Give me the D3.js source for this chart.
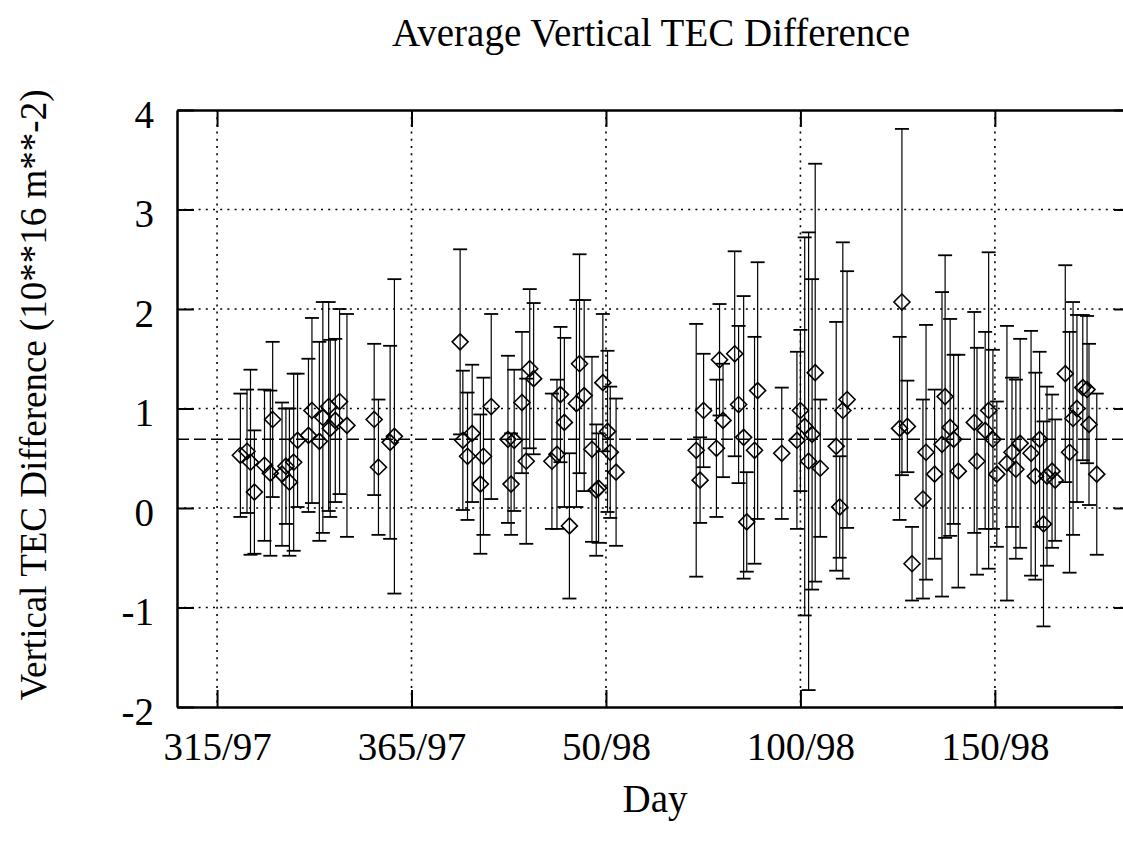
<!DOCTYPE html>
<html><head><meta charset="utf-8">
<script src="https://cdn.jsdelivr.net/npm/d3@7"></script>
<style>
body{margin:0;background:#fff}
text{font-family:"Liberation Serif","Times New Roman",Times,serif;fill:#000}
</style>
</head><body>
<svg id="c" width="1123" height="852"></svg>
<script>
// Day number counted continuously from 1 Jan 1997 (day 366 = 1/98)
const days = [
 321.0,322.7,323.6,324.6,327.2,328.7,329.3,331.7,332.7,333.6,334.7,335.7,338.5,339.4,341.3,342.2,343.7,344.1,345.4,346.5,348.4,355.4,356.5,359.5,360.6,
 377.5,378.2,379.4,380.6,382.7,383.5,385.5,389.8,390.6,391.4,393.4,394.5,395.4,396.4,401.1,402.4,403.3,404.3,405.6,407.4,408.2,409.4,411.4,412.5,413.1,414.2,415.4,416.1,417.6,
 438.2,439.2,440.1,443.4,444.2,445.1,448.1,449.1,450.4,451.2,453.2,454.0,460.2,464.1,465.0,466.1,467.1,468.0,468.8,470.1,474.2,475.1,475.9,477.0,
 490.5,491.1,492.5,493.7,496.5,497.3,499.5,501.4,502.2,503.5,504.4,505.6,509.7,510.4,512.5,513.4,514.5,515.5,518.1,519.4,520.4,521.5,524.3,525.4,526.5,527.5,528.4,529.7,530.5,533.1,534.2,535.1,536.1,537.6,538.7,539.2,541.2
];
// Average vertical TEC difference (10**16 m**-2)
const tecDiff = [
 0.53,0.57,0.46,0.16,0.43,0.35,0.89,0.34,0.42,0.26,0.46,0.68,0.73,0.98,0.67,0.91,1.02,0.80,0.88,1.07,0.83,0.89,0.41,0.66,0.72,
 1.67,0.68,0.52,0.75,0.24,0.52,1.02,0.69,0.24,0.68,1.06,0.47,1.40,1.30,0.47,0.54,1.14,0.86,-0.18,1.05,1.45,1.13,0.59,0.18,0.20,1.26,0.77,0.56,0.36,
 0.58,0.28,0.98,0.60,1.49,0.88,1.55,1.04,0.71,-0.14,0.58,1.18,0.55,0.68,0.98,0.82,0.47,0.74,1.36,0.40,0.62,0.01,0.98,1.09,
 0.80,2.07,0.82,-0.56,0.09,0.56,0.34,0.64,1.12,0.81,0.69,0.37,0.86,0.47,0.78,0.98,0.69,0.34,0.45,0.56,0.39,0.65,0.55,0.32,0.69,-0.16,0.32,0.37,0.28,1.35,0.56,0.90,1.00,1.21,1.19,0.84,0.34
];
// Error bar half-length (standard deviation)
const tecSigma = [
 0.62,0.62,0.93,0.62,0.76,0.83,0.78,0.72,0.58,0.74,0.89,0.67,0.77,0.93,1.00,1.16,1.05,0.89,0.82,0.93,1.12,0.76,0.68,0.97,1.58,
 0.93,0.70,0.64,0.69,0.70,0.79,0.93,0.84,0.51,0.71,0.71,0.83,0.80,0.76,0.68,0.75,0.68,0.85,0.73,1.04,1.10,0.96,0.93,0.66,0.55,0.69,0.81,0.66,0.74,
 1.27,0.43,0.57,0.69,0.56,0.57,1.03,0.79,1.42,0.50,1.14,1.29,0.66,0.89,0.81,1.90,2.30,1.56,2.10,0.69,1.25,0.51,1.69,1.29,
 0.92,1.74,0.46,0.37,1.00,1.28,0.85,1.53,1.42,1.09,0.85,1.17,1.11,1.14,0.99,1.59,0.90,0.73,1.38,0.75,0.90,1.05,1.23,1.04,0.88,1.03,0.90,0.77,0.61,1.09,1.21,1.17,0.94,0.73,0.74,0.81,0.81
];
const meanDiff = 0.69;
const xTickValues = [315,365,415,465,515];
const xTickLabels = ["315/97","365/97","50/98","100/98","150/98"];
const yTickValues = [-2,-1,0,1,2,3,4];
const yTickLabels = ["-2","-1","0","1","2","3","4"];
const yGridValues = [-1,0,1,2,3];
const titleText = "Average Vertical TEC Difference";
const xLabelText = "Day";
const yLabelText = "Vertical TEC Difference (10**16 m**-2)";

const n = Math.min(days.length, tecDiff.length, tecSigma.length);
const data = d3.range(n).map(i => ({day: days[i], v: tecDiff[i], s: tecSigma[i]}));

const svg = d3.select("#c");
const L = 177, R = 1131, T = 110, B = 707;
const x = d3.scaleLinear().domain([304.7, 550]).range([L, R]);
const y = d3.scaleLinear().domain([-2, 4]).range([B, T]);
const FS = 39;

// grid
const grid = svg.append("g").attr("stroke", "#000").attr("stroke-width", 1.6).attr("stroke-dasharray", "2,5.2").attr("fill", "none");
grid.selectAll("line.h").data(yGridValues).join("line").attr("class","h")
  .attr("x1", L).attr("x2", R).attr("y1", d => y(d)).attr("y2", d => y(d));
grid.selectAll("line.v").data(xTickValues).join("line").attr("class","v")
  .attr("x1", d => x(d)).attr("x2", d => x(d)).attr("y1", T).attr("y2", B);

// mean dashed line
svg.append("line").attr("x1", L).attr("x2", R).attr("y1", y(meanDiff)).attr("y2", y(meanDiff))
  .attr("stroke", "#000").attr("stroke-width", 1.5).attr("stroke-dasharray", "12,5");

// error bars
const eb = svg.append("g").attr("stroke", "#000").attr("fill", "none");
eb.selectAll("line.bar").data(data).join("line").attr("class","bar")
  .attr("x1", d => x(d.day)).attr("x2", d => x(d.day))
  .attr("y1", d => y(d.v + d.s)).attr("y2", d => y(d.v - d.s)).attr("stroke-width", 1.2);
const capW = 7;
eb.selectAll("line.capt").data(data).join("line").attr("class","capt")
  .attr("x1", d => x(d.day) - capW).attr("x2", d => x(d.day) + capW)
  .attr("y1", d => y(d.v + d.s)).attr("y2", d => y(d.v + d.s)).attr("stroke-width", 1.8);
eb.selectAll("line.capb").data(data).join("line").attr("class","capb")
  .attr("x1", d => x(d.day) - capW).attr("x2", d => x(d.day) + capW)
  .attr("y1", d => y(d.v - d.s)).attr("y2", d => y(d.v - d.s)).attr("stroke-width", 1.8);

// diamonds
const dh = 8;
svg.append("g").selectAll("path").data(data).join("path")
  .attr("d", d => { const cx = x(d.day), cy = y(d.v); return `M${cx},${cy-dh}L${cx+dh},${cy}L${cx},${cy+dh}L${cx-dh},${cy}Z`; })
  .attr("fill", "none").attr("stroke", "#000").attr("stroke-width", 1.6);

// axes
function styleAxis(g){
  g.select(".domain").attr("stroke-width", 2.5);
  g.selectAll(".tick line").attr("stroke-width", 2);
  g.selectAll("text").attr("font-size", FS).attr("font-family", '"Liberation Serif","Times New Roman",serif');
}
const yAxisL = d3.axisLeft(y).tickValues(yTickValues).tickSize(-17).tickSizeOuter(0).tickPadding(23)
  .tickFormat((d, i) => yTickLabels[i]);
svg.append("g").attr("transform", `translate(${L},0)`).call(yAxisL).call(styleAxis)
  .call(g => g.selectAll("text").attr("dy", "0.44em"));
const yAxisR = d3.axisRight(y).tickValues(yTickValues).tickSize(-17).tickSizeOuter(0).tickFormat("");
svg.append("g").attr("transform", `translate(${R},0)`).call(yAxisR).call(styleAxis);
const xAxisB = d3.axisBottom(x).tickValues(xTickValues).tickSize(-17).tickSizeOuter(0).tickPadding(25)
  .tickFormat((d, i) => xTickLabels[i]);
svg.append("g").attr("transform", `translate(0,${B})`).call(xAxisB).call(styleAxis);
const xAxisT = d3.axisTop(x).tickValues(xTickValues).tickSize(-17).tickSizeOuter(0).tickFormat("");
svg.append("g").attr("transform", `translate(0,${T})`).call(xAxisT).call(styleAxis);

// titles
svg.append("text").attr("x", 651).attr("y", 46).attr("text-anchor", "middle").attr("font-size", FS).text(titleText);
svg.append("text").attr("x", 655).attr("y", 812).attr("text-anchor", "middle").attr("font-size", FS).text(xLabelText);
svg.append("text").attr("transform", "translate(46,395) rotate(-90)").attr("text-anchor", "middle").attr("font-size", 37).text(yLabelText);
</script>
</body></html>
